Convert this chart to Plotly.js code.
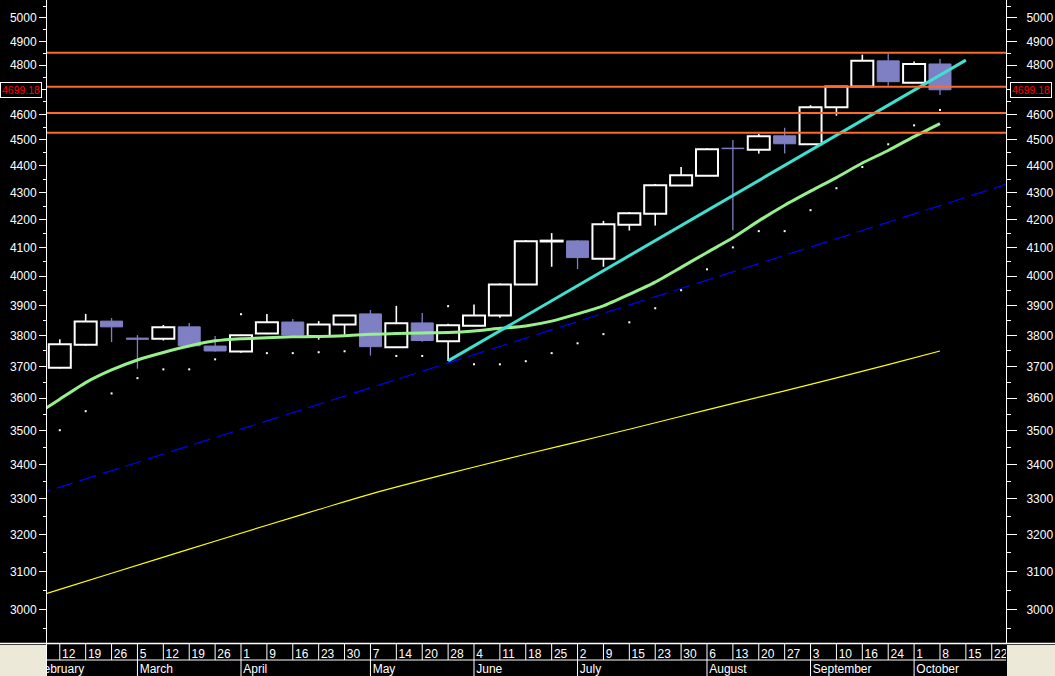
<!DOCTYPE html>
<html><head><meta charset="utf-8">
<script src="https://cdn.plot.ly/plotly-3.0.1.min.js"></script>
<style>html,body{margin:0;padding:0;background:#000;overflow:hidden}#chart{width:1055px;height:676px}</style>
</head><body><div id="chart"></div>
<script>
// ---- data (weekly candles, week index 0 = Feb 12) ----
const candleWeeks = [0,1,2,3,4,5,6,7,8,9,10,11,12,13,14,15,16,17,18,19,20,21,22,23,24,25,26,27,28,29,30,31,32,33,34];
const opens  = [3696,3770,3848,3792,3790,3829,3766,3748,3807,3845,3799,3837,3872,3762,3842,3782,3833,3867,3972,4122,4124,4061,4182,4222,4326,4363,4468,4462,4516,4483,4629,4712,4818,4728,4805];
const highs  = [3788,3872,3858,3802,3835,3842,3799,3803,3872,3855,3848,3868,3885,3899,3875,3839,3904,3975,4127,4152,4127,4196,4228,4332,4396,4468,4500,4523,4547,4637,4713,4844,4850,4815,4826];
const lows   = [3694,3767,3779,3693,3784,3765,3748,3744,3805,3800,3787,3803,3735,3760,3780,3718,3831,3859,3970,4033,4025,4033,4161,4179,4324,4362,4162,4447,4447,4482,4595,4711,4715,4727,4678];
const closes = [3772,3847,3829,3788,3828,3767,3750,3801,3844,3802,3837,3867,3764,3841,3784,3834,3867,3972,4123,4125,4065,4184,4224,4327,4365,4464,4466,4514,4485,4629,4712,4818,4732,4805,4699.18];

const maWeeks  = [-1,0,1,2,3,4,5,6,7,8,9,10,11,12,13,14,15,16,17,18,19,20,21,22,23,24,25,26,27,28,29,30,31,32,33,34];
const maValues = [3545,3597,3649,3689,3721,3745,3766,3783,3790,3793,3796,3797,3800,3805,3807,3809,3810,3815,3824,3832,3848,3872,3899,3938,3980,4031,4083,4135,4196,4253,4305,4356,4411,4459,4513,4564];

const sarValues = [3502,3560,3615,3663,3691,3691,3723,3871,3743,3743,3746,3749,null,3734,3734,3898,3707,3707,3717,3743,3775,3805,3844,3891,3952,4024,4101,4159,4159,4235,4316,4396,4483,4557,4618];

const longMaWeeks  = [-1,0,2,5,8,10,12,15,18,20,22,25,28,30,32,34];
const longMaValues = [3031,3052,3095,3160,3226,3270,3314,3373,3430,3467,3505,3564,3623,3664,3706,3750];

const channelWeeks  = [-1,37];
const channelValues = [3310,4344];
const trendWeeks  = [15,35];
const trendValues = [3718,4821];

const levels = [4852,4711,4606,4528];
const lastClose = 4699.18;

const yTickValues = [3000,3100,3200,3300,3400,3500,3600,3700,3800,3900,4000,4100,4200,4300,4400,4500,4600,4700,4800,4900,5000];
const yTickLabels = ['3000','3100','3200','3300','3400','3500','3600','3700','3800','3900','4000','4100','4200','4300','4400','4500','4600','','4800','4900','5000'];
const yMinorValues = [2950,3050,3150,3250,3350,3450,3550,3650,3750,3850,3950,4050,4150,4250,4350,4450,4550,4650,4750,4850,4950,5050];

const tickWeeks = [-1,0,1,2,3,4,5,6,7,8,9,10,11,12,13,14,15,16,17,18,19,20,21,22,23,24,25,26,27,28,29,30,31,32,33,34,35,36];
const dayLabels = ['5','12','19','26','5','12','19','26','1','9','16','23','30','7','14','20','28','4','11','18','25','2','9','15','23','30','6','13','20','27','3','10','16','24','1','8','15','22'];
const monthWeeks = [-1,3,7,12,16,20,25,29,33];
const monthNames = ['February','March','April','May','June','July','August','September','October'];

// ---- layout geometry ----
const W = 1055, H = 676, ML = 47, MR = 49, BAND = 33;
const PW = W - ML - MR;
const pxX = p => (p - ML) / PW;
const pxY = p => (H - p) / H;
const FONT = 'Liberation Sans, Arial, sans-serif';
const PURPLE = '#7f7fc4';
const ORANGE = '#ff6a2b';
const yRange = [Math.log10(2914), Math.log10(5078)];
const xRange = [-0.494, 36.55];
const BAND_TOP = 2.0625;

const traces = [];

// candle wicks (outside the bodies), split by direction
const upWx = [], upWy = [], dnWx = [], dnWy = [];
candleWeeks.forEach((k, i) => {
  const o = opens[i], c = closes[i], top = Math.max(o, c), bot = Math.min(o, c);
  const wx = c >= o ? upWx : dnWx, wy = c >= o ? upWy : dnWy;
  if (highs[i] > top) { wx.push(k, k, null); wy.push(top, highs[i], null); }
  if (lows[i] < bot) { wx.push(k, k, null); wy.push(lows[i], bot, null); }
});
traces.push({type: 'scatter', mode: 'lines', x: upWx, y: upWy, xaxis: 'x', yaxis: 'y',
  line: {color: '#ffffff', width: 1.6}});
traces.push({type: 'scatter', mode: 'lines', x: dnWx, y: dnWy, xaxis: 'x', yaxis: 'y',
  line: {color: PURPLE, width: 1.3}});
// candle bodies
const isUp = candleWeeks.map((k, i) => closes[i] >= opens[i]);
traces.push({
  type: 'bar', x: candleWeeks,
  base: candleWeeks.map((k, i) => Math.min(opens[i], closes[i])),
  y: candleWeeks.map((k, i) => Math.abs(closes[i] - opens[i])),
  width: 0.85, xaxis: 'x', yaxis: 'y',
  marker: {
    color: isUp.map(u => u ? '#000000' : PURPLE),
    line: {color: isUp.map(u => u ? '#ffffff' : PURPLE), width: isUp.map(u => u ? 2 : 1)}
  },
  hoverinfo: 'skip'
});
traces.push({type: 'scatter', mode: 'lines', x: longMaWeeks, y: longMaValues, xaxis: 'x', yaxis: 'y',
  line: {color: '#ffff00', width: 1.2, shape: 'spline', smoothing: 1}});
traces.push({type: 'scatter', mode: 'lines', x: channelWeeks, y: channelValues, xaxis: 'x', yaxis: 'y',
  line: {color: '#0000ff', width: 1.2, dash: '17px,7px'}});
traces.push({type: 'scatter', mode: 'lines', x: maWeeks, y: maValues, xaxis: 'x', yaxis: 'y',
  line: {color: '#98f08c', width: 3, shape: 'spline', smoothing: 0.6}});
traces.push({type: 'scatter', mode: 'lines', x: trendWeeks, y: trendValues, xaxis: 'x', yaxis: 'y',
  line: {color: '#40e0d0', width: 3}});
// horizontal levels
const lvX = [], lvY = [];
levels.forEach(v => { lvX.push(xRange[0] - 1, xRange[1] + 1, null); lvY.push(v, v, null); });
traces.push({type: 'scatter', mode: 'lines', x: lvX, y: lvY, xaxis: 'x', yaxis: 'y',
  line: {color: ORANGE, width: 2}});
// SAR dots
traces.push({type: 'scatter', mode: 'markers', x: candleWeeks, y: sarValues, xaxis: 'x', yaxis: 'y2',
  marker: {color: '#ffffff', size: 2, symbol: 'square', line: {width: 0}}});

// ---- date band (bottom subplot) ----
const sepX = [], sepY = [];
tickWeeks.forEach(k => { sepX.push(k, k, null); sepY.push(1, BAND_TOP, null); });
monthWeeks.forEach(k => { sepX.push(k, k, null); sepY.push(0, 1, null); });
sepX.push(xRange[0] - 1, xRange[1] + 1, null); sepY.push(1, 1, null);
traces.push({type: 'scatter', mode: 'lines', x: sepX, y: sepY, xaxis: 'x', yaxis: 'y3',
  line: {color: '#ffffff', width: 1}});
traces.push({type: 'scatter', mode: 'markers+text', x: tickWeeks, y: tickWeeks.map(() => 1.33),
  text: dayLabels, textposition: 'middle right', xaxis: 'x', yaxis: 'y3',
  marker: {size: 2, opacity: 0}, textfont: {family: FONT, size: 12, color: '#ffffff'}});
traces.push({type: 'scatter', mode: 'markers+text', x: monthWeeks, y: monthWeeks.map(() => 0.36),
  text: monthNames, textposition: 'middle right', xaxis: 'x', yaxis: 'y3',
  marker: {size: 2, opacity: 0}, textfont: {family: FONT, size: 12, color: '#ffffff'}});

const yCommon = {
  type: 'log', range: yRange, autorange: false, showgrid: false, zeroline: false,
  showline: true, linecolor: '#ffffff', linewidth: 1, fixedrange: true,
  tickmode: 'array', tickvals: yTickValues, ticktext: yTickLabels,
  ticks: 'outside', tickcolor: '#ffffff', tickwidth: 1,
  tickfont: {family: FONT, size: 12, color: '#ffffff'},
  minor: {tickmode: 'array', tickvals: yMinorValues, ticks: 'outside', tickcolor: '#ffffff', tickwidth: 1}
};

const layout = {
  width: W, height: H,
  margin: {l: ML, r: MR, t: 0, b: 0, pad: 0},
  paper_bgcolor: '#000000', plot_bgcolor: '#000000',
  showlegend: false, hovermode: false, dragmode: false,
  barmode: 'overlay',
  xaxis: {domain: [0, 1], range: xRange, autorange: false, anchor: 'y3', showgrid: false, zeroline: false,
    showline: false, showticklabels: false, ticks: '', fixedrange: true, rangeslider: {visible: false}},
  yaxis: Object.assign({}, yCommon, {domain: [BAND / H, 1], anchor: 'x', side: 'left', ticklen: 7,
    minor: Object.assign({}, yCommon.minor, {ticklen: 3})}),
  yaxis2: Object.assign({}, yCommon, {overlaying: 'y', anchor: 'x', side: 'right', ticklen: 10, ticklabelstandoff: 7,
    minor: Object.assign({}, yCommon.minor, {ticklen: 4})}),
  yaxis3: {domain: [0, BAND / H], range: [0, BAND_TOP], autorange: false, anchor: 'x', showgrid: false, zeroline: false,
    showline: true, linecolor: '#ffffff', linewidth: 1, showticklabels: false, ticks: '', fixedrange: true},
  shapes: [
    {type: 'rect', xref: 'paper', yref: 'paper', x0: pxX(0), x1: pxX(46), y0: 0, y1: pxY(645), fillcolor: '#ece9d8', line: {width: 0}, layer: 'above'},
    {type: 'rect', xref: 'paper', yref: 'paper', x0: pxX(1007), x1: pxX(1056), y0: 0, y1: pxY(645), fillcolor: '#ece9d8', line: {width: 0}, layer: 'above'},
    {type: 'line', xref: 'paper', yref: 'paper', x0: pxX(0), x1: pxX(1056), y0: pxY(643.5), y1: pxY(643.5), line: {color: '#ffffff', width: 1.5}, layer: 'above'}
  ],
  annotations: [
    {xref: 'paper', yref: 'y', x: pxX(0), y: Math.log10(lastClose), xanchor: 'left', yanchor: 'middle',
     text: lastClose.toFixed(2), showarrow: false, font: {family: FONT, size: 10.5, color: '#ff0000'},
     bgcolor: '#000000', bordercolor: '#ffffff', borderwidth: 1, borderpad: 1},
    {xref: 'paper', yref: 'y', x: pxX(1010), y: Math.log10(lastClose), xanchor: 'left', yanchor: 'middle',
     text: lastClose.toFixed(2), showarrow: false, font: {family: FONT, size: 10.5, color: '#ff0000'},
     bgcolor: '#000000', bordercolor: '#ffffff', borderwidth: 1, borderpad: 1}
  ]
};

Plotly.newPlot('chart', traces, layout, {staticPlot: true, displayModeBar: false});
</script>
</body></html>
